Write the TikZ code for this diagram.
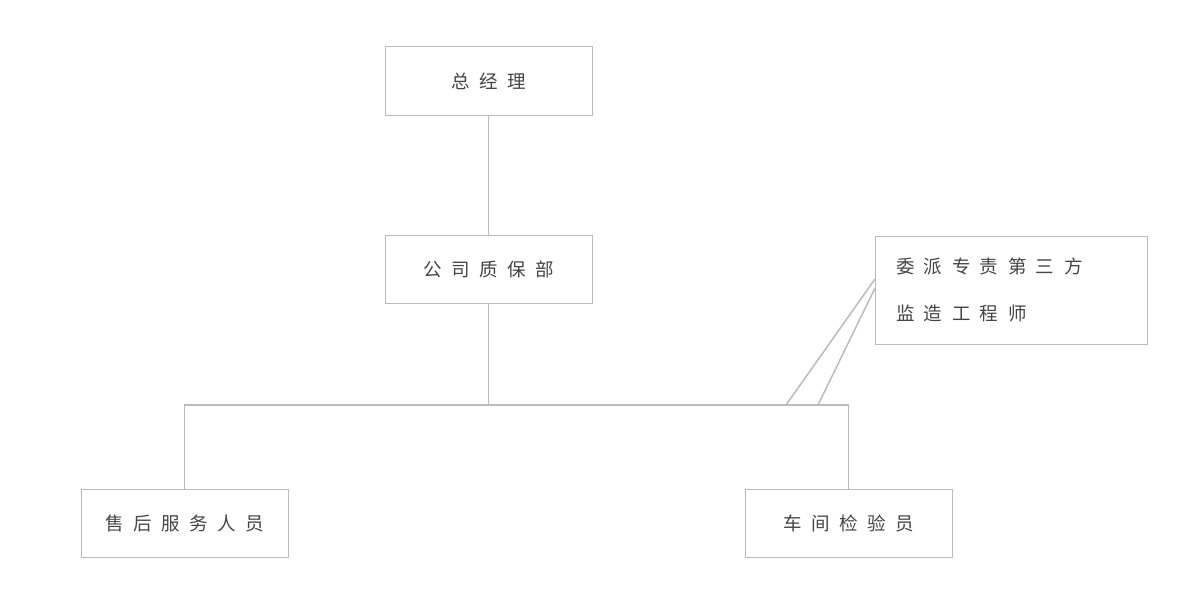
\documentclass[tikz,border=0pt]{standalone}
\usepackage{fontspec}
\newfontfamily\cjk{Noto Sans CJK SC}
\usepackage{tikz}
\usetikzlibrary{positioning}
\newcommand{\chgap}{\hspace{9.5pt}}
\definecolor{boxline}{HTML}{BBBBBB}
\definecolor{txt}{HTML}{444444}
\begin{document}
\begin{tikzpicture}[x=1pt,y=-1pt,
		orgbox/.style={draw=boxline,line width=1pt,minimum width=207pt,minimum height=68pt,
			font=\cjk\fontsize{18.5}{22}\selectfont,text=txt},
		link/.style={draw=boxline,line width=1.5pt}]
		\useasboundingbox (0,0) rectangle (1203,602);
		\node[orgbox] (GM) at (488.5,81) {总\chgap 经\chgap 理};
		\node[orgbox] (QA) at (488.5,269.5) {公\chgap 司\chgap 质\chgap 保\chgap 部};
		\node[orgbox] (AS) at (184.5,523.5) {售\chgap 后\chgap 服\chgap 务\chgap 人\chgap 员};
		\node[orgbox] (WS) at (848.5,523.5) {车\chgap 间\chgap 检\chgap 验\chgap 员};
		\node[orgbox,minimum width=272pt,minimum height=108pt,align=left,
			text width=230pt,font=\cjk\fontsize{18.5}{47}\selectfont] (EN) at (1011,290)
			{委\chgap 派\chgap 专\chgap 责\chgap 第\chgap 三\chgap 方\\监\chgap 造\chgap 工\chgap 程\chgap 师};
		\coordinate (J) at (488.5,405);
		\coordinate (JL) at (184.5,405);
		\coordinate (JR) at (848.5,405);
		\coordinate (D1) at (786,405);
		\coordinate (D2) at (818,405);
		\coordinate (E1) at (875,279);
		\coordinate (E2) at (875,288);
		\draw[link] (GM) -- (QA);
		\draw[link] (QA) -- (J);
		\draw[link] (AS.north) -- (JL) -- (JR) -- (WS.north);
		\draw[link] (E1) -- (D1);
		\draw[link] (E2) -- (D2);
	\end{tikzpicture}
\end{document}
